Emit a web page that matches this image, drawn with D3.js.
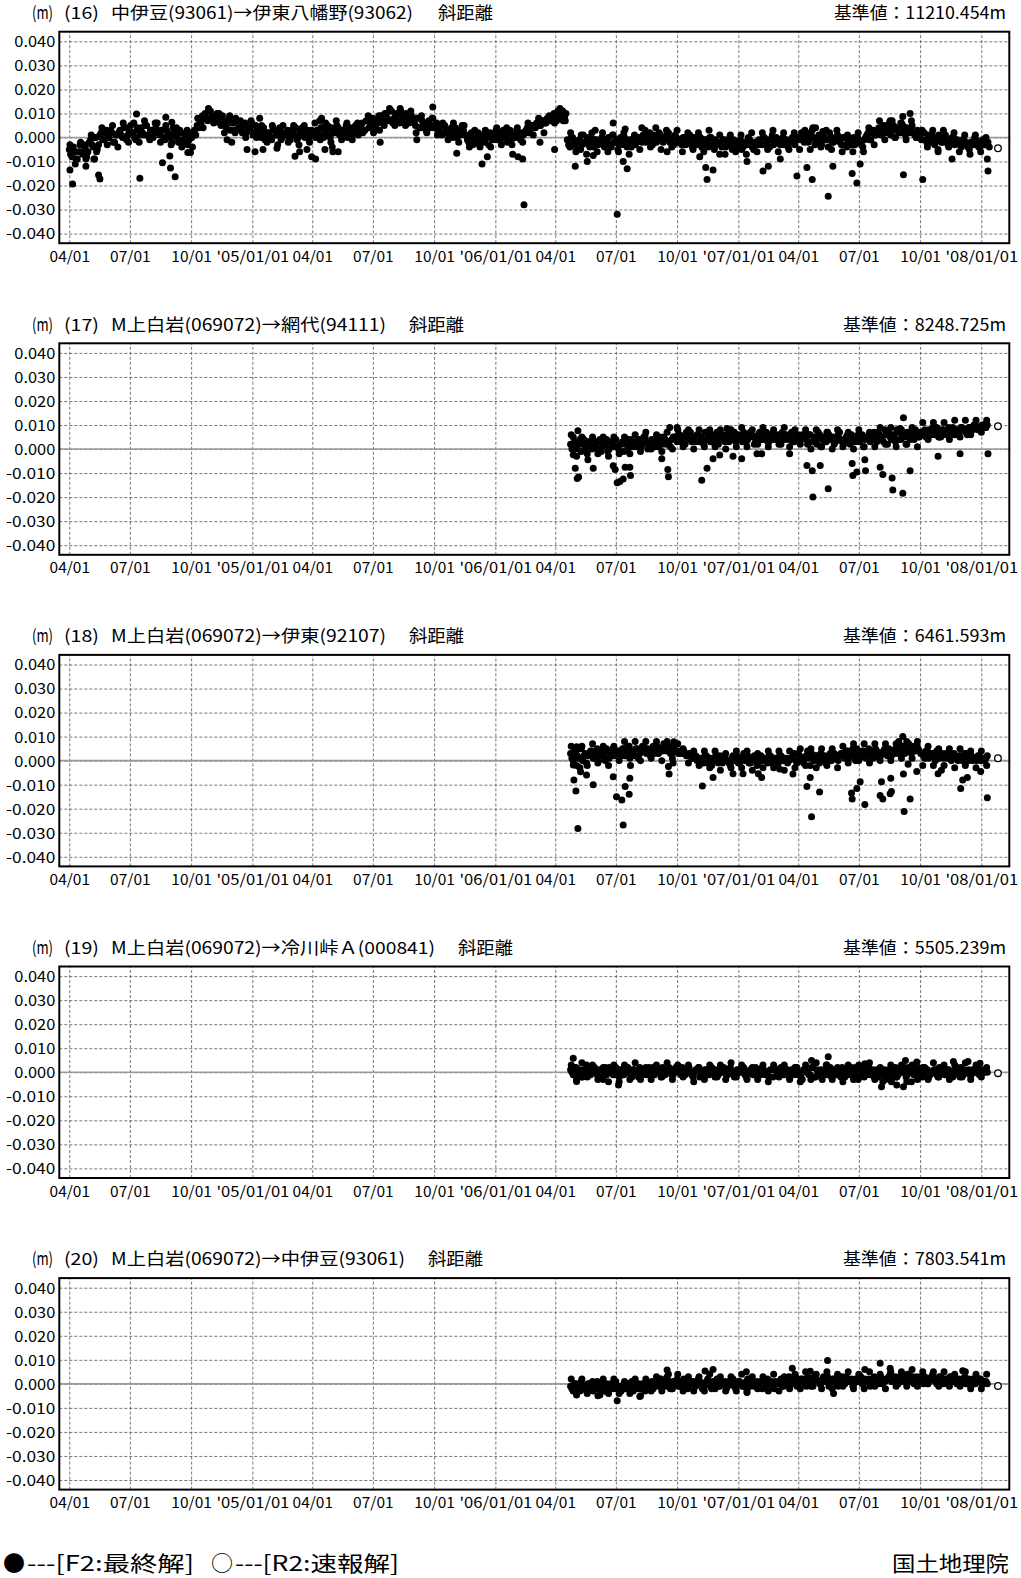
<!DOCTYPE html>
<html><head><meta charset="utf-8">
<script src="https://cdn.jsdelivr.net/npm/d3@7"></script>
<style>
html,body{margin:0;padding:0;background:#fff;}
svg{display:block;}
text{font-family:"Noto Sans CJK JP","Noto Sans",sans-serif;fill:#000;}
</style></head>
<body>
<svg id="chart" width="1021" height="1578"></svg>
<script>
// ---------------- DATA ----------------
const panelNumbers = ["(16)", "(17)", "(18)", "(19)", "(20)"];
const baselineNames = [
  "中伊豆(93061)→伊東八幡野(93062)",
  "M上白岩(069072)→網代(94111)",
  "M上白岩(069072)→伊東(92107)",
  "M上白岩(069072)→冷川峠Ａ(000841)",
  "M上白岩(069072)→中伊豆(93061)"
];
const referenceValues = ["11210.454m", "8248.725m", "6461.593m", "5505.239m", "7803.541m"];
const xTickDates = ["2004-04-01","2004-07-01","2004-10-01","2005-01-01","2005-04-01","2005-07-01","2005-10-01","2006-01-01","2006-04-01","2006-07-01","2006-10-01","2007-01-01","2007-04-01","2007-07-01","2007-10-01","2008-01-01"];
const xTickLabels = ["04/01","07/01","10/01","'05/01/01","04/01","07/01","10/01","'06/01/01","04/01","07/01","10/01","'07/01/01","04/01","07/01","10/01","'08/01/01"];
const yTickValues = [0.04, 0.03, 0.02, 0.01, 0, -0.01, -0.02, -0.03, -0.04];
const yTickLabels = ["0.040","0.030","0.020","0.010","0.000","-0.010","-0.020","-0.030","-0.040"];

// F2 final solutions (mm), three interleaved samplings of the daily series
const f2StartA = ["2004-04-01", "2006-04-24", "2006-04-24", "2006-04-24", "2006-04-24"];
const f2StartB = ["2004-04-03", "2006-04-26", "2006-04-26", "2006-04-26", "2006-04-26"];
const f2StartC = ["2004-04-02", "2006-04-25", "2006-04-25", "2006-04-25", "2006-04-25"];
const f2StepAB = 4, f2StepC = 8;
const f2a_16 = [
 -5,-8,-6,-9, -3,-7,-4,-6, -1,-4,0,-3, 2,-1,3,0,2,-2,1, 3,0,4,1,5,2,-1,3, 4,1,5,0,3,2,6,1,
 3,-1,2,0,4,1,-2, 2,-2,1,-1,0, 3,5,7,9, 10,7,11,8,9, 8,5,7,4,8,6,3,7, 5,2,6,3,4,1,5,
 3,0,4,1,2,-1,3,1,4,0, 1,3,-1,2,4,0,3,1,2,-1,3,2, 3,1,4,2,5,0,3,2,4,1,3,5,2,0,4,3,
 4,6,3,7,5,8,4,6, 9,6,10,7,11,8,10,6,9,7,8,10, 7,5,8,4,6,3,7,5,4,6, 4,1,5,2,3,0,4,2,1,3,
 1,-2,2,-1,0,-3,1,-2,0,2,-1,1, 2,-1,3,0,2,-1,1,3,0,2, 2,4,3,5,4,6,5,7,6,8,7, 10,7,9,11,8,
 -1,-4,0,-3,-2,-5,1,-2,-3,0,-4,-1, -2,0,-4,-1,-3,1,-2,-5,0,-3,-1,-2,-4,0,-2,
 0,-2,1,-1,2,-3,0,-1,1,-2,0,2,-1,-3,0, -1,-3,0,-2,1,-4,-1,-2,0,-3,-1,-4,0,-2,-3,
 -2,-4,-1,-3,0,-5,-2,-3,-1,-4,-2,0,-3,-5,-2, -1,-3,0,-2,-4,1,-2,-1,-3,0,-2,-4,-1,-2,0,
 0,2,-2,1,-1,3,-3,0,-2,1,-1,-4,0,-2,-1, -1,-3,0,-4,-2,-1,-3,0,-2,-4, 0,2,-1,3,1,
 4,1,5,2,6,3,0,4,2,5,1,3,4,2,0, 1,-1,2,-2,0,1,-3,-1,0,-2,1,-3,-1,0,-2, -2,-4,-1,-3,-5,-2,0,-3,-4,-1,-3,-2
];
const f2b_16 = [
 -7,-4,-9,-6, -6,-3,-8,-2, -3,0,-5,1, -1,2,0,3,-2,1,2, 1,4,-1,3,2,0,4,1, 2,5,1,3,0,4,2,3,
 0,3,1,-2,2,0,3, -1,1,-3,2,1, 1,4,6,8, 8,11,9,7,10, 6,9,5,7,3,6,8,4, 3,5,2,4,6,2,3,
 1,3,-1,2,0,4,1,2,-1,2, 2,0,3,1,-1,2,4,0,3,1,2,0, 2,4,0,3,1,4,2,5,1,3,2,0,4,2,5,1,
 5,3,7,4,6,5,7,3, 7,10,8,11,6,9,7,11,8,10,6,9, 6,8,4,7,5,6,4,8,5,3, 2,5,3,1,4,2,0,3,5,1,
 -1,1,0,-2,2,-1,0,1,-3,0,1,-1, 0,2,1,-2,3,1,0,2,-1,1, 3,2,5,4,6,5,7,6,8,7,9, 8,11,9,7,10,
 -3,0,-2,-5,-1,-3,-2,0,-4,-2,-1,-3, -1,-3,-2,0,-4,-2,-1,-3,-2,0,-4,-1,-2,-3,0,
 -1,1,-2,0,-1,1,-2,2,0,-1,1,-2,0,1,-2, -2,0,-3,-1,-2,0,-3,-1,-4,-1,-2,0,-3,-1,-2,
 -3,-1,-4,-2,-3,-1,-4,-2,-5,-2,-3,-1,-4,-2,-3, -2,0,-3,-1,-1,-3,0,-2,-1,-3,-1,-2,0,-3,-1,
 -1,1,0,-2,2,0,-1,1,-3,0,-1,2,-2,0,1, -2,0,-3,-1,-3,0,-2,-1,-3,-1, 1,-1,2,1,3,
 2,5,3,4,1,5,3,2,6,3,4,2,5,1,3, 0,2,-1,1,-2,0,-1,1,-2,0,-1,-2,0,-3,-1, -3,-1,-2,-4,-2,-3,-1,-4,-2,-3,-2,-4
];
const f2c_16 = [
 -3,-11,-2,-9,1,-6,4,-3,5,-4, 6,-2,6,-2,7,-1,6,-2,5,-3, 4,-4,3,-4,8,4,12,6,10,2,
 9,2,7,0,7,0,5,-2,5,-3, 5,-2,5,-3,5,-2,6,-1,6,-2, 7,-1,6,-1,6,2,9,2,9,5,
 12,5,12,5,11,2,9,2,8,1, 6,-1,6,-2,5,-4,3,-4,3,-4, 3,-3,4,-3,4,-2,6,1,8,2, 9,6,12,7,
 2,-6,1,-7,2,-6, 2,-6,1,-6,2,-7,1, -5,3,-4,4,-5,3,-4,3, -6,2,-5,2,-6,3,-5, 1,-7,1,-6,1,-7,2,-6,
 2,-5,3,-6,2,-5,2, -5,3,-5,4,-4,3,-5,3, -6,1,-6,2,-6, 4,-3, 7,-1,7,0,6,-1,7,0, 3,-4,3,-5,3,-4,2,-6, 1,-7,1,-6,0
];
const f2a_17 = [
 2,5,0,3,-1,4,1,3,0, 3,0,4,1,2,-1,3,1,4,0,2,-1,3,1,2, 3,1,4,2,5,0,3,2,4,1,3,5,2,3,4,
 5,3,6,4,2,5,7,4,3,6,5,2,4,6,3,5,7,4,5,3,6,4,5,3,
 6,4,7,3,5,6,2,5,7,4,6,3,5,7,4,6,2,5,6,4,7,3,5,4,6,
 5,2,6,3,4,7,1,5,3,6,4,2,5,7,3,4,6,2,5,3,6,4,1,5,4,
 5,7,3,6,4,8,2,5,6,3,7,4,6,2,5,7,4,6,5,
 6,8,5,7,9,6,7,5,8,6,9,7,6,8,7,9,8,6,9,8,10,8,9,10,9
];
const f2b_17 = [
 0,3,1,4,2,0,3,2,4, 1,3,-1,2,4,0,2,3,1,-1,3,2,0,4,1, 2,4,1,5,3,2,4,1,3,5,2,4,3,1,5,
 4,6,3,5,7,4,3,5,6,3,4,7,5,3,6,4,2,5,6,4,3,5,7,4,
 5,3,6,4,7,5,3,6,4,5,7,3,6,4,5,3,7,4,5,6,3,5,6,4,5,
 4,6,3,5,2,6,4,3,7,4,5,3,6,4,2,5,3,6,4,5,3,6,4,5,3,
 6,4,7,5,3,6,7,4,5,8,4,6,5,7,4,6,8,5,7,
 7,5,8,6,7,9,5,8,7,6,8,9,7,6,9,8,7,9,8,10,9,8,10,9,10
];
const f2c_17 = [
 6,-3,5,-2,5, -2,5,-3,5,-2,5,-2, 6,-1,7,0,6,-1,7,0, 8,1,8,0,8,1,8,1,8,0,8,1,
 9,1,8,2,9,1,8,2,9,1,8,2,8, 0,8,1,7,0,8,1,7,0,8,1,7, 1,9,2,9,1,8,2,9,1,
 11,4,11,5,11,4,12,5,12,6,12,7,12
];
const f2a_18 = [
 3,0,4,1,5,2,-1,3,4,1,5,2,3,0,4,2,5,3,
 4,2,5,3,6,4,2,5,3,6,4,5,2,6,4,3,5,7,4,6,3,5,4,
 4,3,3,2,2,1,2,0,
 1,-1,2,0,-2,1,0,2,-1,1,0,-2,2,1,-1,0,3,1,-1,0,2,-2,1,0,1,-1,2,0,1,-1,2,0,1,0,
 1,3,-1,2,0,1,4,-2,1,2,0,3,1,-1,2,0,3,1,2,
 3,1,4,2,5,0,3,2,4,1,5,3,2,4,1,3,5,2,4,3,5,
 5,3,6,4,7,3,5,6,4,
 3,1,4,2,3,0,4,2,1,3,2,0,3,1,2,0,3,1,2,0,1,2,0,1,1
];
const f2b_18 = [
 1,4,2,5,0,3,2,4,1,3,0,4,2,5,1,3,2,4,
 3,5,2,6,4,3,5,1,4,6,3,4,5,3,6,5,4,6,5,3,6,4,3,
 3,4,2,3,1,2,0,1,
 0,2,-1,1,0,2,-1,1,2,0,-1,1,0,2,-1,1,0,2,-1,1,0,-1,2,1,0,2,-1,1,0,2,0,1,-1,1,
 2,0,3,1,-1,2,1,3,0,2,-1,1,2,0,3,1,2,0,3,
 2,4,1,3,2,5,1,4,3,2,4,1,5,3,2,4,3,5,2,4,3,
 4,6,3,5,4,6,4,5,3,
 2,4,1,3,2,4,1,3,2,1,3,1,2,0,2,1,3,0,2,1,0,2,1,0,2
];
const f2c_18 = [
 6,-2,6,-2,7,-1,6,-2,6, 0,8,1,8,0,8,1,8,0,8,1,7, 5,-1,4,-2,
 4,-3,4,-4,3,-3,4,-3,4,-4,3,-3,4,-3,4,-4,4, -3,5,-2,5,-3,5,-2,5,-3,6,
 -1,7,0,7,-1,7,0,7,0,7, 1,8,1,8, -2,6,-2,5,-2,5,-3,5,-2,4,-3,4,-2
];
const f2a_19 = [
 1,-1,2,0,-2,1,3,-1,0,2,-1,1,-2,2,0,1,-1,2,
 0,1,-1,2,0,-2,1,0,2,-1,1,0,-1,2,0,1,-2,1,0,2,-1,0,1,
 0,2,-1,1,0,-2,1,2,-1,0,1,-1,2,0,-2,1,0,1,-1,2,0,-1,1,0,2,-2,0,1,-1,1,0,2,-1,0,1,-2,1,0,2,-1,
 0,-2,1,-1,2,0,-3,1,0,-1,2,-2,0,1,-1,3,0,-2,1,-1,0,2,-2,1,0,-1,2,-3,0,1,-1,2,0,-2,1,0,-1,1,
 0,-2,1,2,-1,0,1,-2,2,0,-1,1,0,-2,2,1,-1,0,1,-2,0,2,-1,1,0,-1,2,0,-2,1,0,-1,1,0,2,-1,0,1
];
const f2b_19 = [
 0,2,-1,1,-2,0,2,-1,1,0,-2,1,0,-1,2,0,-1,1,
 1,-1,0,2,-1,1,0,-2,1,0,-1,2,0,-1,1,0,2,-1,0,1,-1,2,0,
 -1,1,0,2,-1,0,1,-2,0,1,-1,2,0,1,-1,0,2,-1,1,0,-2,1,0,2,-1,0,1,-1,2,0,-1,1,0,-2,1,2,0,-1,1,0,
 1,-1,0,2,-1,-2,1,0,-1,2,-2,1,0,-3,1,-1,2,0,-1,1,-2,0,1,-1,2,0,-2,1,-1,0,2,-1,1,0,-2,1,0,-1,
 1,-1,0,-2,1,0,2,-1,0,1,-1,2,0,-1,1,-2,0,1,-1,2,0,-1,1,0,-2,1,0,2,-1,0,1,-1,0,2,-1,1,0,0
];
const f2c_19 = [
 3,-3,4,-2,3,-3,2,-4,3,-2, 3,-3,4,-3,2,-3,3,-2,4,-3, 3,-2,3,-4,2,-3,3,-2,3,-3,
 4,-2,3,-3,2,-3,3,-4,3,-2, 3,-3,2,-4,3,-3,4,-2,3,-3, 2,-4,3,-3,3,-2,4,-3,2,-3,
 3,-2,3,-4,3,-3,2,-3,4,-2, 3,-3,3,-2,4,-3,3,-2,2
];
const f2a_20 = [
 -1,-3,0,-2,1,-1,-3,0,-2,-1,1,-2,0,-3,-1,0,-2,1,-1,-3,0,-1,-2,1,0,-2,-1,0,-3,-1,
 0,-2,1,-1,2,0,-1,1,-2,0,2,-1,0,1,-2,0,1,-1,2,0,-1,1,0,-2,1,2,-1,0,1,-1,0,2,-2,1,0,-1,1,2,0,-1,1,0,-2,1,2,0,-1,1,0,2,-1,
 1,3,0,2,-1,1,2,0,3,1,-1,2,1,0,3,2,-1,1,2,0,1,3,0,2,1,-1,2,1,3,0,1,2,0,3,1,2,0,1,
 2,4,1,3,0,2,3,1,4,2,0,3,2,1,3,0,2,4,1,2,3,0,2,1,3,1,0,2,1,3,0,1,2,0,1,2,0,1
];
const f2b_20 = [
 -2,0,-1,-3,-1,-2,0,-1,-3,0,-2,-1,-3,0,-2,-1,0,-2,-3,-1,-2,0,-1,-3,-1,0,-2,-1,-2,0,
 1,-1,0,2,-1,1,0,-2,1,0,-1,1,2,-1,0,1,-1,0,1,-2,0,2,-1,1,0,-1,1,0,-2,1,2,-1,0,1,-1,0,2,-1,1,0,-1,1,2,-1,0,1,-2,0,1,-1,0,
 2,0,1,3,0,2,1,-1,2,0,3,1,0,2,1,3,0,2,1,-1,2,0,3,1,2,0,1,3,0,2,1,-1,2,1,0,3,1,2,
 3,1,2,0,3,1,2,4,1,3,2,1,3,0,2,1,3,2,0,3,1,2,0,3,1,2,0,1,2,0,2,1,0,1,2,0,1,0
];
const f2c_20 = [
 2,-4,2,-4,1,-5,2,-4,2,-4,1,-4,2,-5,2,
 -3,3,-3,3,-2,4,-3,3,-3,3,-3,4,-2,3,-3,3,-3,4,-3,3,-2,3,-3,4,-3,3,
 -2,4,-2,5,-1,4,-2,5,-2,4,-1,5,-2,4,-2,5,-1,4,-2,
 5,-1,5,-1,6,-1,5,0,5,-1,5,-1,4,-1,5,-2,4,-2,4
];

// F2 scattered points away from the main band: [date, mm]
const out_16 = [
 ["2004-04-02",-13.5],["2004-04-06",-19.4],["2004-04-26",-12],["2004-05-08",-9],["2004-05-09",-9],
 ["2004-05-15",-15.6],["2004-05-17",-17.3],["2004-07-11",9.8],["2004-07-16",-17],["2004-08-19",-10.5],
 ["2004-08-24",8.4],["2004-08-30",-7.7],["2004-08-31",-12.7],["2004-09-02",6.3],["2004-09-07",-16.3],
 ["2004-09-26",-6.3],["2004-09-30",-6.3],["2004-11-24",-1],["2004-12-01",-2],["2004-12-24",-5],
 ["2005-01-05",-6],["2005-01-12",8],["2005-01-17",-5],["2005-02-07",-4.5],["2005-03-06",-7.8],
 ["2005-03-13",-6],["2005-03-24",-5],["2005-03-31",-8],["2005-04-06",-9],["2005-04-12",7],
 ["2005-04-15",8],["2005-04-20",-5],["2005-05-01",-4],["2005-05-02",-6],["2005-05-10",-6],
 ["2005-07-12",-2],["2005-09-05",-1],["2005-09-29",12.7],["2005-11-04",-6.6],["2005-11-28",-3],
 ["2005-12-12",-11],["2005-12-20",-8],["2006-01-03",4],["2006-01-27",-7],["2006-02-04",-8],
 ["2006-02-11",-9],["2006-02-13",-28],["2006-03-09",-2],["2006-03-31",-5],["2006-04-12",11],
 ["2006-05-01",-12],["2006-05-19",-10],["2006-05-28",-7.5],["2006-05-31",3],["2006-06-27",6],
 ["2006-07-03",-32],["2006-07-12",-10],["2006-07-15",3.5],["2006-07-18",-13],["2006-08-09",4],
 ["2006-09-16",-6],["2006-11-04",-8],["2006-11-13",-12.5],["2006-11-15",-17.5],["2006-11-24",-13.5],
 ["2006-12-04",-7],["2007-01-14",-10],["2007-02-07",-14],["2007-02-15",-12],["2007-03-05",-9],
 ["2007-03-30",-16],["2007-04-14",-12.5],["2007-04-22",-17.5],["2007-04-23",4],["2007-05-08",2.5],
 ["2007-05-16",-24.5],["2007-05-23",-12],["2007-06-21",-15],["2007-06-28",-19],["2007-07-03",-11],
 ["2007-08-20",7],["2007-09-05",8.7],["2007-09-06",-15.5],["2007-09-16",10],["2007-10-05",-17.5],
 ["2007-10-28",-6],["2007-11-18",-9],["2008-01-10",-9],["2008-01-11",-14]
];
const out_17 = [
 ["2006-04-28",-2.4],["2006-05-01",-8],["2006-05-04",-12.3],["2006-05-05",7.6],["2006-05-06",-11.6],
 ["2006-05-20",-4.5],["2006-05-28",-8],["2006-06-27",-7],["2006-06-30",-8.5],["2006-07-03",-14],
 ["2006-07-07",-13.5],["2006-07-12",-12.5],["2006-07-15",-7.6],["2006-07-19",4],["2006-07-22",-7.6],
 ["2006-07-23",-11],["2006-09-08",-4],["2006-09-17",-8.5],["2006-09-18",-11.5],["2006-09-20",9],
 ["2006-10-01",9],["2006-11-07",-13],["2006-11-15",-8],["2006-11-24",-4],["2006-12-04",-2.5],
 ["2006-12-15",8.6],["2006-12-24",-3],["2007-01-06",-4],["2007-01-29",-2],["2007-02-05",-2],
 ["2007-03-19",-2],["2007-04-14",-6.8],["2007-04-22",-9],["2007-04-23",-20],["2007-05-04",-6.8],
 ["2007-05-16",-16.5],["2007-06-21",-6],["2007-06-22",-11],["2007-06-28",-9.5],["2007-07-10",-4.5],
 ["2007-07-11",-9],["2007-08-02",-7.6],["2007-08-06",-10.6],["2007-08-20",-12],["2007-08-21",-17],
 ["2007-09-01",8.5],["2007-09-05",-18.4],["2007-09-06",13],["2007-09-16",-9],["2007-10-28",-3],
 ["2007-11-30",-2],["2008-01-11",-2]
];
const out_18 = [
 ["2006-05-03",5.8],["2006-04-28",-1.8],["2006-04-29",-8],["2006-05-02",-12.6],["2006-05-05",-28.2],
 ["2006-05-08",-3],["2006-05-09",-4.6],["2006-05-18",-6],["2006-05-28",-10],["2006-06-27",-6.7],
 ["2006-07-02",-15],["2006-07-10",-16.4],["2006-07-12",-26.8],["2006-07-15",-10.8],["2006-07-22",-7.3],
 ["2006-07-21",-14],["2006-07-23",-2],["2006-09-18",-2.4],["2006-09-19",-5.6],["2006-09-25",-1],
 ["2006-09-26",7.9],["2006-11-08",-10.5],["2006-11-24",-7],["2006-12-24",-5.5],["2007-01-08",-5.5],
 ["2007-01-31",-5.5],["2007-02-05",-7],["2007-03-04",-3.5],["2007-03-24",-5.6],["2007-04-14",-10.8],
 ["2007-04-19",-7],["2007-04-21",-23.3],["2007-05-03",-13],["2007-06-20",-13.5],["2007-06-21",-16],
 ["2007-06-28",-11.6],["2007-07-03",-8.8],["2007-07-10",-18.2],["2007-08-02",-14.5],["2007-08-04",-8.8],
 ["2007-08-06",-16],["2007-08-17",-13.8],["2007-08-18",-7.3],["2007-08-19",-12.8],["2007-09-06",-5.6],
 ["2007-09-07",-21.2],["2007-09-05",10],["2007-08-30",8],["2007-09-13",-1.5],["2007-09-16",-16],
 ["2007-09-26",-4.5],["2007-10-28",-5.5],["2007-11-02",-4],["2007-12-01",-11.6],["2007-12-04",-8],
 ["2007-12-11",-7],["2007-12-31",-4.5],["2008-01-10",-15.4]
];
const out_19 = [
 ["2006-04-28",5.8],["2006-05-03",-3.9],["2006-06-12",-3],["2006-07-05",-5.3],["2006-07-06",-4],
 ["2007-04-21",4.9],["2007-05-16",6.5],["2007-07-10",3.5],["2007-08-04",-6],["2007-08-06",-4],
 ["2007-08-19",-4],["2007-08-27",-5.3],["2007-09-06",-6],["2007-09-09",4.9],["2007-09-18",-4],
 ["2007-09-26",4.3],["2007-11-20",4.5],["2007-12-12",4.5],["2007-12-30",3.7]
];
const out_20 = [
 ["2006-05-03",-4.6],["2006-06-07",-4.6],["2006-07-03",-7],["2006-08-06",-5.3],["2006-09-16",5.8],
 ["2006-09-18",4],["2006-11-12",5.3],["2006-11-24",6],["2007-01-13",5],["2007-01-14",-3.6],
 ["2007-03-23",6.5],["2007-04-19",5.2],["2007-05-15",9.7],["2007-05-24",-4],["2007-07-10",6],
 ["2007-08-02",8.6],["2007-08-17",6.5],["2007-12-04",5.5]
];
// R2 rapid solutions (open circles): [date, mm]
const r2_16 = [["2008-01-26",-4.5]];
const r2_17 = [["2008-01-26",9.5]];
const r2_18 = [["2008-01-26",1]];
const r2_19 = [["2008-01-26",-0.4]];
const r2_20 = [["2008-01-26",-0.9]];

const bandA = [f2a_16, f2a_17, f2a_18, f2a_19, f2a_20];
const bandB = [f2b_16, f2b_17, f2b_18, f2b_19, f2b_20];
const bandC = [f2c_16, f2c_17, f2c_18, f2c_19, f2c_20];
const extraSeries = [out_16, out_17, out_18, out_19, out_20];
const r2Series = [r2_16, r2_17, r2_18, r2_19, r2_20];

// ---------------- LAYOUT ----------------
const svg = d3.select("#chart");
const parse = d3.utcParse("%Y-%m-%d");
const left = 59.3, right = 1009.3;
const top0 = 31.7, plotH = 211.5, pitch = 311.6;
const x = d3.scaleUtc().domain([parse("2004-03-17"), parse("2008-02-12")]).range([left, right]);

const nameX = 111, nameW = [302, 275, 275, 324, 294];
const distX = [438, 409, 409, 458, 428];
const refW = [172, 163, 163, 163, 163];

function seriesPoints(arr, startStr, step) {
  const start = parse(startStr);
  return arr.map((v, i) => ({ d: d3.utcDay.offset(start, step * i), v: v / 1000 }));
}

for (let p = 0; p < 5; p++) {
  const top = top0 + p * pitch, bottom = top + plotH;
  const y = d3.scaleLinear().domain([-0.044, 0.044]).range([bottom, top]);
  const g = svg.append("g");

  const ty = 19 + p * pitch;
  const t = (xx, w, s) => g.append("text").attr("x", xx).attr("y", ty).attr("font-size", 17)
      .attr("textLength", w).attr("lengthAdjust", "spacingAndGlyphs").text(s);
  t(32, 21, "(m)");
  t(64, 35, panelNumbers[p]);
  t(nameX, nameW[p], baselineNames[p]);
  t(distX[p], 55, "斜距離");
  t(1006 - refW[p], refW[p], "基準値：" + referenceValues[p]);

  const yAxis = d3.axisLeft(y).tickValues(yTickValues).tickSize(-(right - left)).tickPadding(4)
    .tickFormat((d, i) => yTickLabels[i]);
  const ya = g.append("g").attr("transform", `translate(${left},0)`).call(yAxis);
  ya.select(".domain").remove();
  ya.selectAll("line").attr("stroke", "#555").attr("stroke-width", 0.8).attr("stroke-dasharray", "3,2");
  ya.selectAll("text").attr("font-size", 15).attr("fill", "#000").attr("font-family", "'Noto Sans CJK JP',sans-serif")
    .attr("x", -4).attr("dy", "0.36em")
    .attr("textLength", (d, i) => yTickLabels[i].length * 8.2).attr("lengthAdjust", "spacingAndGlyphs");

  const xAxis = d3.axisBottom(x).tickValues(xTickDates.map(parse)).tickSize(-(bottom - top)).tickPadding(0)
    .tickFormat((d, i) => xTickLabels[i]);
  const xa = g.append("g").attr("transform", `translate(0,${bottom})`).call(xAxis);
  xa.select(".domain").remove();
  xa.selectAll("line").attr("stroke", "#555").attr("stroke-width", 0.8).attr("stroke-dasharray", "3,2");
  xa.selectAll("text").attr("font-size", 15).attr("fill", "#000").attr("font-family", "'Noto Sans CJK JP',sans-serif")
    .attr("y", 18.5).attr("dy", 0)
    .attr("textLength", (d, i) => xTickLabels[i].length * 8.1).attr("lengthAdjust", "spacingAndGlyphs");

  g.append("line").attr("x1", left).attr("x2", right).attr("y1", y(0)).attr("y2", y(0))
    .attr("stroke", "#999").attr("stroke-width", 1.6);

  const pts = seriesPoints(bandA[p], f2StartA[p], f2StepAB)
    .concat(seriesPoints(bandB[p], f2StartB[p], f2StepAB))
    .concat(seriesPoints(bandC[p], f2StartC[p], f2StepC))
    .concat(extraSeries[p].map(([d, v]) => ({ d: parse(d), v: v / 1000 })));
  g.append("g").selectAll("circle").data(pts).join("circle")
    .attr("cx", d => x(d.d)).attr("cy", d => y(d.v)).attr("r", 3.5).attr("fill", "#000");
  const r2 = r2Series[p].map(([d, v]) => ({ d: parse(d), v: v / 1000 }));
  g.append("g").selectAll("circle").data(r2).join("circle")
    .attr("cx", d => x(d.d)).attr("cy", d => y(d.v)).attr("r", 3.3)
    .attr("fill", "#fff").attr("stroke", "#000").attr("stroke-width", 1.3);

  g.append("rect").attr("x", left).attr("y", top).attr("width", right - left).attr("height", bottom - top)
    .attr("fill", "none").attr("stroke", "#000").attr("stroke-width", 2);
}

// legend & credit
const lg = (xx, w, s) => svg.append("text").attr("x", xx).attr("y", 1571).attr("font-size", 21)
    .attr("textLength", w).attr("lengthAdjust", "spacingAndGlyphs").text(s);
svg.append("text").attr("x", 3).attr("y", 1571).attr("font-size", 22).text("●");
lg(27, 167, "---[F2:最終解]");
svg.append("text").attr("x", 211).attr("y", 1571).attr("font-size", 22).text("○");
lg(235, 164, "---[R2:速報解]");
lg(892, 117, "国土地理院");
</script>
</body></html>
